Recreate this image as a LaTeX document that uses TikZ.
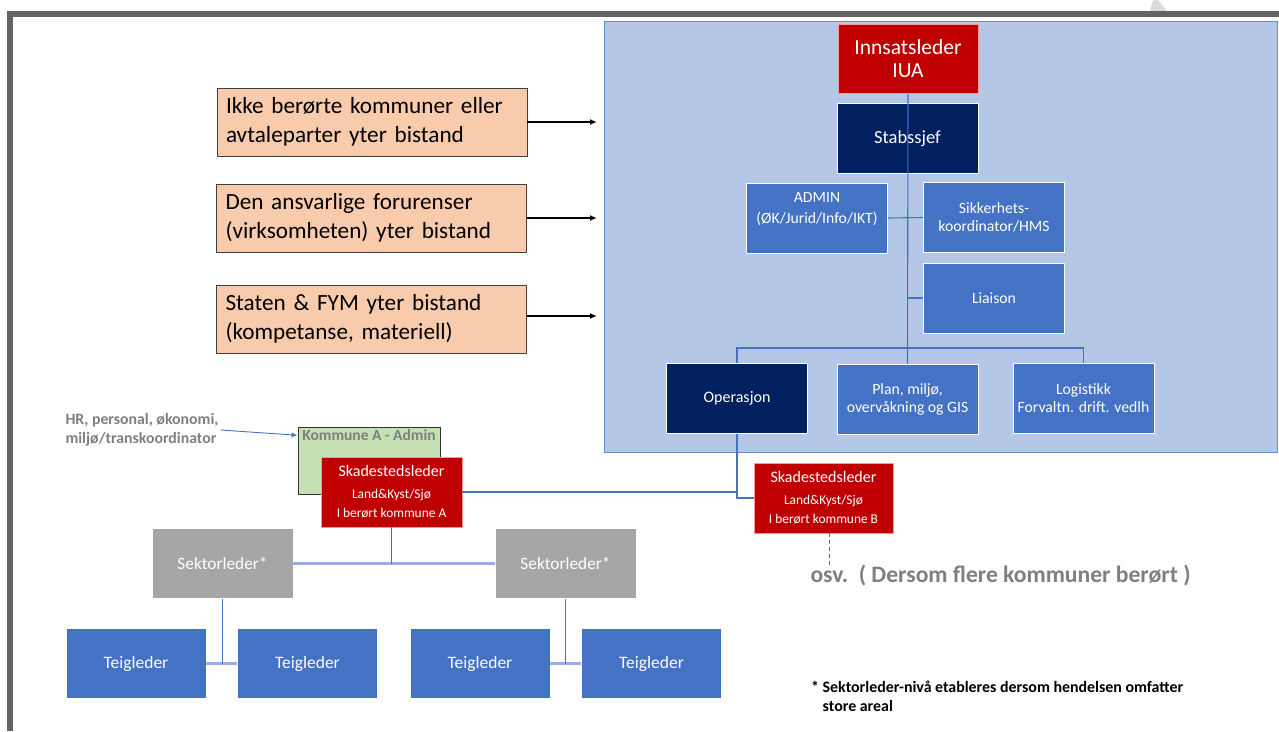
\documentclass[tikz,border=0pt]{standalone}
\usepackage{fontspec}
\setmainfont{Carlito}
\usetikzlibrary{positioning,arrows.meta}

\definecolor{panelblue}{HTML}{B4C7E7}
\definecolor{midblue}{HTML}{4472C4}
\definecolor{navy}{HTML}{002060}
\definecolor{alarmred}{HTML}{C00000}
\definecolor{sektgrey}{HTML}{A6A6A6}
\definecolor{peach}{HTML}{F8CBAD}
\definecolor{admgreen}{HTML}{C5E0B4}
\definecolor{notegrey}{HTML}{7F7F7F}
\definecolor{framegrey}{HTML}{646464}

\tikzset{
  unit/.style={rectangle,draw=white,line width=0.6pt,minimum width=141pt,
    minimum height=70pt,inner sep=1pt,align=center,text=white},
  staff/.style={unit,fill=midblue,font=\fontsize{15.7}{18}\selectfont},
  chief/.style={unit,fill=navy,font=\fontsize{16}{19}\selectfont},
  leader/.style={unit,fill=alarmred,draw=red!40,font=\fontsize{16}{19}\selectfont},
  sektor/.style={unit,fill=sektgrey,font=\fontsize{17.3}{20}\selectfont},
  teig/.style={unit,fill=midblue,minimum width=140pt,font=\fontsize{17.5}{20}\selectfont},
  helpbox/.style={rectangle,draw=black!75,line width=0.8pt,fill=peach,
    minimum width=310pt,minimum height=68pt,text width=292pt,align=left,
    font=\fontsize{23.2}{28.5}\selectfont},
  link/.style={midblue,line width=1.1pt},
  tie/.style={midblue!55,line width=2.6pt},
  feed/.style={black,line width=1.8pt,-{Latex[length=7pt,width=6pt]}}
}

\begin{document}
\begin{tikzpicture}[x=1pt,y=-1pt]
\useasboundingbox (0,0) rectangle (1279,731);

% frame and panel
\fill[black!14] (1150,11) -- (1153,0) -- (1158,0) -- (1167,11) -- cycle;
\draw[framegrey,line width=6pt] (10,731) -- (10,14) -- (1279,14);
\draw[midblue!80,fill=panelblue,line width=0.8pt] (604,21) rectangle (1277,452);

% IUA staff
\node[leader,font=\fontsize{21.5}{23}\selectfont,minimum width=140pt,minimum height=69pt] (iua) at (908,59) {Innsatsleder\\IUA};
\node[chief,font=\fontsize{18.5}{22}\selectfont] (sjef) at (907.5,138.5) {Stabssjef};
\node[staff] (admin) at (817,218) {ADMIN\\[3pt](ØK/Jurid/Info/IKT)\\[2pt]\mbox{}};
\node[staff] (sikk) at (994,217.5) {Sikkerhets-\\koordinator/HMS};
\node[staff] (liaison) at (994,298) {Liaison};
\node[chief] (ops) at (737,398.5) {Operasjon};
\node[staff] (plan) at (907.5,399) {Plan, miljø,\\overvåkning og GIS};
\node[staff] (logist) at (1083.5,398.5) {Logistikk\\Forvaltn. drift. vedlh};
\coordinate (bar) at (907.5,348);

\draw[link] (iua.south) -- (plan.north);
\draw[link] (admin.east) -- (sikk.west);
\draw[link] (liaison.west) -- (liaison.west -| bar);
\draw[link] (ops.north) |- (bar) -| (logist.north);

% help from outside
\node[helpbox] (help1) at (372,122) {Ikke berørte kommuner eller\\avtaleparter yter bistand};
\node[helpbox] (help2) at (371.5,218) {Den ansvarlige forurenser\\(virksomheten) yter bistand};
\node[helpbox] (help3) at (371.5,319) {Staten \& FYM yter bistand\\(kompetanse, materiell)};
\coordinate (in1) at (597,122);
\coordinate (in2) at (597,218);
\coordinate (in3) at (597,316);
\draw[feed] (help1.east) -- (in1);
\draw[feed] (help2.east) -- (in2);
\draw[feed] (help3.east |- in3) -- (in3);

% kommune A
\node[rectangle,draw=black!80,line width=0.8pt,fill=admgreen,minimum width=142pt,minimum height=67pt,
  label={[name=komAtxt,anchor=north,inner sep=3pt,text=notegrey,font=\bfseries\fontsize{15.5}{18}\selectfont]north:Kommune A - Admin}] (komA) at (369,460.5) {};
\node[text=notegrey,align=left,font=\bfseries\fontsize{15.8}{19}\selectfont,inner sep=2pt] (hr) at (142,430) {HR, personal, økonomi,\\miljø/transkoordinator};
\draw[midblue,line width=0.9pt,-{Latex[length=6pt,width=5pt]}] (hr.east) -- (komA.west |- komAtxt.center);

\node[leader] (skadeA) at (391.5,492) {Skadestedsleder\\[3pt]{\fontsize{13.4}{16}\selectfont Land\&Kyst/Sjø}\\[0pt]{\fontsize{13.4}{16}\selectfont I berørt kommune A}};
\node[leader,minimum width=139pt] (skadeB) at (823.5,498) {Skadestedsleder\\[3pt]{\fontsize{13.4}{16}\selectfont Land\&Kyst/Sjø}\\[0pt]{\fontsize{13.4}{16}\selectfont I berørt kommune B}};
\coordinate (join) at (737,492);
\draw[link] (skadeA.east |- join) -- (join);
\draw[link] (ops.south) |- (skadeB.west);

\coordinate (more) at (829,565);
\draw[midblue,line width=0.8pt,dash pattern=on 4pt off 3pt] (skadeB.south -| more) -- (more);
\node[text=notegrey,font=\bfseries\fontsize{23.6}{27}\selectfont,anchor=west] (osv) at (807,576) {osv.\ \ ( Dersom flere kommuner berørt )};

% sektor level
\node[sektor] (sekt1) at (222.5,563.5) {Sektorleder*};
\node[sektor] (sekt2) at (565.5,563.5) {Sektorleder*};
\draw[tie] (sekt1.east) -- (sekt2.west);
\draw[link] (skadeA.south) -- (skadeA.south |- sekt1.east);

\node[teig] (teig1) at (136,663.5) {Teigleder};
\node[teig] (teig2) at (307.5,663.5) {Teigleder};
\node[teig] (teig3) at (480,663.5) {Teigleder};
\node[teig] (teig4) at (651.5,663.5) {Teigleder};
\draw[tie] (teig1.east) -- (teig2.west);
\draw[tie] (teig3.east) -- (teig4.west);
\draw[link] (sekt1.south) -- (sekt1.south |- teig1.east);
\draw[link] (sekt2.south) -- (sekt2.south |- teig3.east);

\node[anchor=north west,align=left,font=\bfseries\fontsize{15.9}{19}\selectfont,inner sep=0pt] (note) at (811,681) {* Sektorleder-nivå etableres dersom hendelsen omfatter\\\phantom{* }store areal};
\end{tikzpicture}
\end{document}
